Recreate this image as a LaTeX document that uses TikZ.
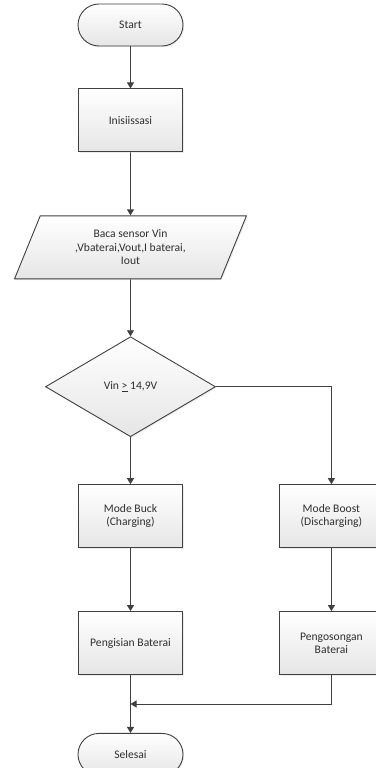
\documentclass[tikz,border=0pt]{standalone}
\usepackage{fontspec}
\setmainfont{Carlito}
\usepackage{tikz}
\usetikzlibrary{arrows.meta,calc,positioning,shapes.geometric,shadows}
\definecolor{edge}{HTML}{404040}
\definecolor{ink}{HTML}{303030}

\begin{document}
\begin{tikzpicture}[
  base/.style={draw=edge,line width=.9pt,align=center,text=ink,
    font=\fontsize{11.6}{13.3}\selectfont,top color=white,bottom color=black!10,
    drop shadow={opacity=.15,shadow xshift=1.2pt,shadow yshift=-1.2pt}},
  term/.style={base,minimum width=105pt,minimum height=42pt,rounded corners=21pt},
  proc/.style={base,minimum width=104pt,minimum height=63pt},
  io/.style={base,trapezium,trapezium left angle=68,trapezium right angle=112,
    trapezium stretches=true,minimum width=232pt,minimum height=63pt},
  dec/.style={base,diamond,aspect=1.7,minimum width=170pt,minimum height=100pt,
    inner sep=1pt},
  f/.style={-{Triangle[length=6pt,width=7pt]},draw=edge,line width=.9pt}]
\useasboundingbox (0,0) rectangle (375pt,-768pt);
\node[term] (start) at (130.5pt,-25pt) {Start};
\node[proc,below=42pt of start] (init) {Inisiissasi};
\node[io,below=63pt of init] (read) {Baca sensor Vin\\,Vbaterai,Vout,I baterai,\\Iout};
\node[dec,below=57pt of read] (cek) {Vin \underline{>} 14,9V};
\node[proc,below=47pt of cek] (buck) {Mode Buck\\(Charging)};
\node[proc,right=96pt of buck] (boost) {Mode Boost\\(Discharging)};
\node[proc,below=63pt of buck] (isi) {Pengisian Baterai};
\node[proc,below=63pt of boost] (kosong) {Pengosongan\\Baterai};
\node[term,below=58pt of isi] (selesai) {Selesai};
\coordinate (gabung) at ($(isi.south)!.5!(selesai.north)$);
\draw[f] (start)--(init);
\draw[f] (init)--(read);
\draw[f] (read)--(cek);
\draw[f] (cek)--(buck);
\draw[f] (cek.east)-|(boost.north);
\draw[f] (buck)--(isi);
\draw[f] (boost)--(kosong);
\draw[f] (isi)--(selesai);
\draw[f] (kosong.south)|-(gabung);
\end{tikzpicture}
\end{document}
